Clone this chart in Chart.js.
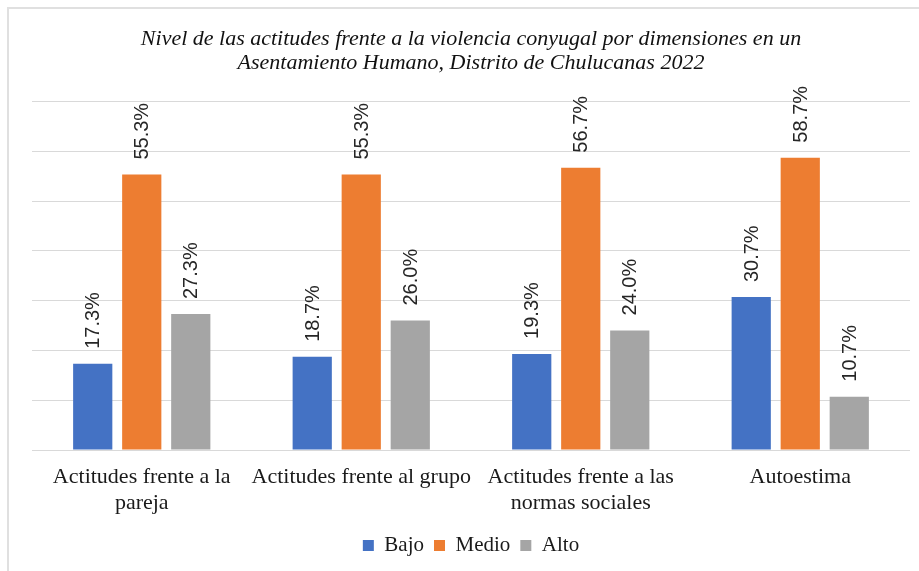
<!DOCTYPE html>
<html>
<head>
<meta charset="utf-8">
<script src="https://cdn.jsdelivr.net/npm/chart.js@4/dist/chart.umd.min.js"></script>
<style>
  html, body { margin: 0; padding: 0; background: #fff; }
  #frame {
    position: absolute; left: 7px; top: 7px; width: 930px; height: 580px;
    border-left: 2px solid #e0e0e0; border-top: 2px solid #e0e0e0;
  }
  #wrap { position: absolute; left: 0; top: 0; width: 919px; height: 571px; }
</style>
</head>
<body>
<div id="frame"></div>
<div id="wrap"><canvas id="myChart" width="919" height="571"></canvas></div>
<script>
// datos
const categorias = [
    ['Actitudes frente a la', 'pareja'],
    ['Actitudes frente al grupo'],
    ['Actitudes frente a las', 'normas sociales'],
    ['Autoestima']
];
const bajo = [17.3, 18.7, 19.3, 30.7];
const medio = [55.3, 55.3, 56.7, 58.7];
const alto = [27.3, 26.0, 24.0, 10.7];
const tituloLineas = [
    'Nivel de las actitudes frente a la violencia conyugal por dimensiones en un',
    'Asentamiento Humano, Distrito de Chulucanas 2022'
];

// etiquetas verticales encima de cada barra
const etiquetasBarras = {
    id: 'etiquetasBarras',
    afterDatasetsDraw(chart) {
        const ctx = chart.ctx;
        ctx.save();
        ctx.font = '20px "Liberation Sans", Arial, sans-serif';
        ctx.fillStyle = '#262626';
        ctx.textAlign = 'left';
        ctx.textBaseline = 'middle';
        chart.data.datasets.forEach(function (ds, i) {
            chart.getDatasetMeta(i).data.forEach(function (bar, j) {
                ctx.save();
                ctx.translate(bar.x + 1, bar.y - 15);
                ctx.rotate(-Math.PI / 2);
                ctx.fillText(ds.data[j].toFixed(1) + '%', 0, 0);
                ctx.restore();
            });
        });
        ctx.restore();
    }
};

let ctx = document.getElementById('myChart').getContext('2d');
let chart = new Chart(ctx, {
    type: 'bar',
    data: {
        labels: categorias,
        datasets: [
            { label: 'Bajo', data: bajo, backgroundColor: '#4472C4' },
            { label: 'Medio', data: medio, backgroundColor: '#ED7D31' },
            { label: 'Alto', data: alto, backgroundColor: '#A5A5A5' }
        ]
    },
    options: {
        responsive: false,
        animation: false,
        categoryPercentage: 0.67,
        barPercentage: 0.8,
        layout: { padding: { left: 32, right: 9, top: 0, bottom: 5 } },
        plugins: {
            title: {
                display: true,
                text: tituloLineas,
                color: '#111',
                font: { family: '"Liberation Serif", "Times New Roman", serif', style: 'italic', weight: 'normal', size: 22, lineHeight: 1.1 },
                padding: { top: 27, bottom: 26 }
            },
            legend: {
                position: 'bottom',
                labels: {
                    boxWidth: 11,
                    boxHeight: 11,
                    padding: 10,
                    color: '#1a1a1a',
                    font: { family: '"Liberation Serif", "Times New Roman", serif', size: 21 }
                }
            },
            tooltip: { enabled: false }
        },
        scales: {
            y: {
                min: 0,
                max: 70,
                ticks: { display: false, stepSize: 10 },
                grid: { color: '#d9d9d9', lineWidth: 1, drawTicks: false },
                border: { display: false }
            },
            x: {
                grid: { display: false, drawTicks: false },
                border: { display: false },
                ticks: {
                    padding: 15,
                    color: '#1a1a1a',
                    maxRotation: 0,
                    autoSkip: false,
                    font: { family: '"Liberation Serif", "Times New Roman", serif', size: 22, lineHeight: 1.15 }
                },
                afterFit: function (scale) {
                    scale.height = 75;
                }
            }
        }
    },
    plugins: [etiquetasBarras]
});
</script>
</body>
</html>
